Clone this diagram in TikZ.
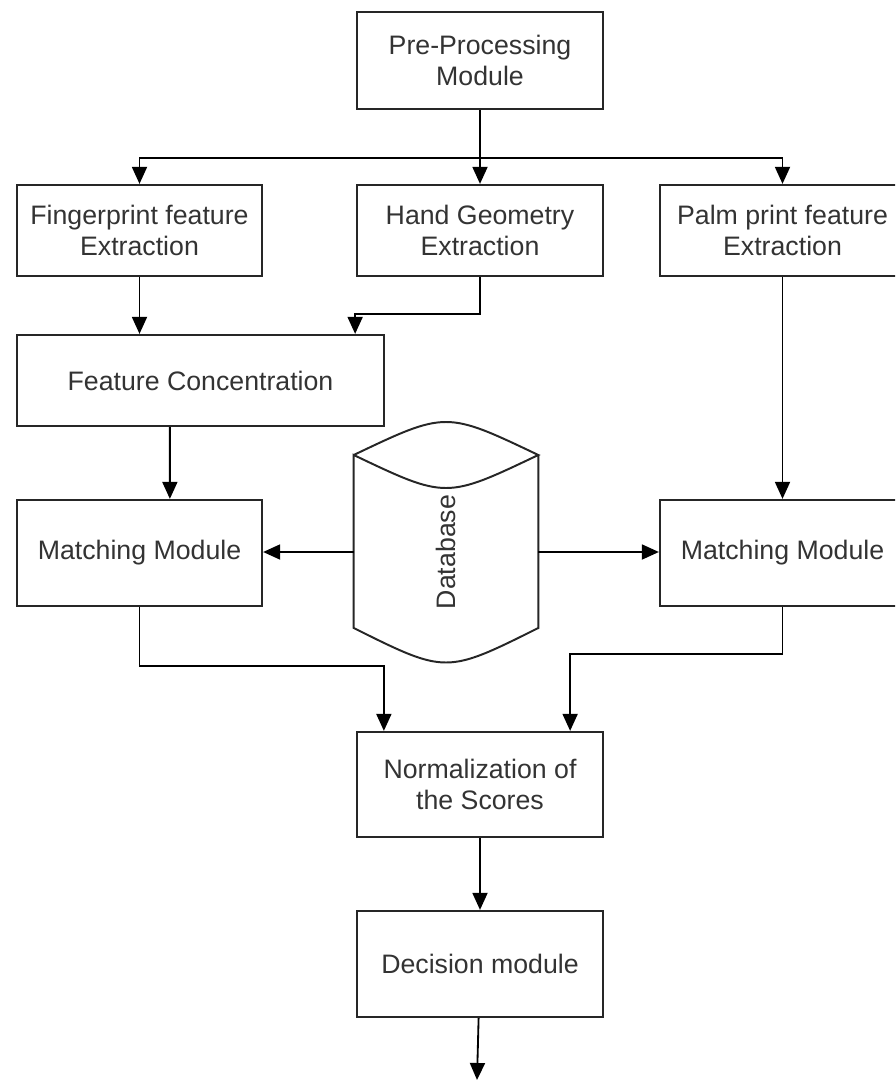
\documentclass[tikz,border=0pt]{standalone}
\usepackage{fontspec}
\setmainfont{Liberation Sans}
\usepackage{graphicx}
\usetikzlibrary{arrows.meta, positioning, calc}

\begin{document}
\begin{tikzpicture}[
  module/.style={draw=black!85, line width=1.6pt, minimum width=6.15cm, minimum height=2.275cm, align=center, inner sep=0pt, text=black!80, font=\fontsize{19}{21.5}\selectfont},
  dbase/.style={draw=black!85, line width=1.4pt},
  flow/.style={-{Triangle[length=4.25mm, width=3.75mm]}, line width=1.3pt},
]
\useasboundingbox (0,0) rectangle (22.375,-27);
\clip (0,0) rectangle (22.375,-27);

% Top
\node[module, minimum height=2.425cm] (pre) at (12,-1.5125) {Pre-Processing\\Module};
\coordinate (split) at (12,-3.95);

% Feature extraction
\node[module, minimum width=6.125cm] (finger) at (3.4875,-5.7625) {Fingerprint feature\\Extraction};
\node[module] (hand) at (12,-5.7625) {Hand Geometry\\Extraction};
\node[module, minimum width=6.125cm] (palm) at (19.5625,-5.7625) {Palm print feature\\Extraction};
\node[module, minimum width=9.175cm] (featconc) at (5.0125,-9.5125) {Feature Concentration};

% Matching
\node[module, minimum width=6.125cm, minimum height=2.65cm] (matchL) at (3.4875,-13.825) {Matching Module};
\node[minimum width=4.6cm, inner sep=0pt, text=black!80, font=\fontsize{19}{21.5}\selectfont] (db) at (11.15,-13.8) {\rotatebox{90}{Database}};
\node[module, minimum width=6.125cm, minimum height=2.65cm] (matchR) at (19.5625,-13.825) {Matching Module};

% Fusion and decision
\node[module, minimum height=2.625cm] (norm) at (12,-19.6125) {Normalization of\\the Scores};
\node[module, minimum height=2.65cm] (decision) at (12,-24.1) {Decision module};
\coordinate (out) at (11.925,-27);

% Database drum
\draw[dbase] ([yshift=2.425cm]db.west) .. controls ([yshift=3.525cm]db.center) .. ([yshift=2.425cm]db.east)
  .. controls ([yshift=1.325cm]db.center) .. ([yshift=2.425cm]db.west)
  -- ([yshift=-1.9cm]db.west) .. controls ([yshift=-3.05cm]db.center) .. ([yshift=-1.9cm]db.east)
  -- ([yshift=2.425cm]db.east);

% Connections
\draw[flow] (pre) -- (hand);
\draw[flow] (split) -| (finger);
\draw[flow] (split) -| (palm);
\draw[flow] (finger) -- (finger |- featconc.north);
\draw[flow] (hand.south) -- ++(0,-0.925) -| ([xshift=-0.75cm]featconc.north east);
\draw[flow] ([xshift=3.85cm]featconc.south west) -- ([xshift=3.85cm]matchL.north west);
\draw[flow] (palm) -- (matchR);
\draw[flow] (db.west) -- (db.west -| matchL.east);
\draw[flow] (db.east) -- (db.east -| matchR.west);
\draw[flow] (matchL.south) -- ++(0,-1.475) -| ([xshift=0.7cm]norm.north west);
\draw[flow] (matchR.south) -- ++(0,-1.175) -| ([xshift=-0.85cm]norm.north east);
\draw[flow] (norm) -- (decision);
\draw[flow] (decision) -- (out);

\end{tikzpicture}
\end{document}
